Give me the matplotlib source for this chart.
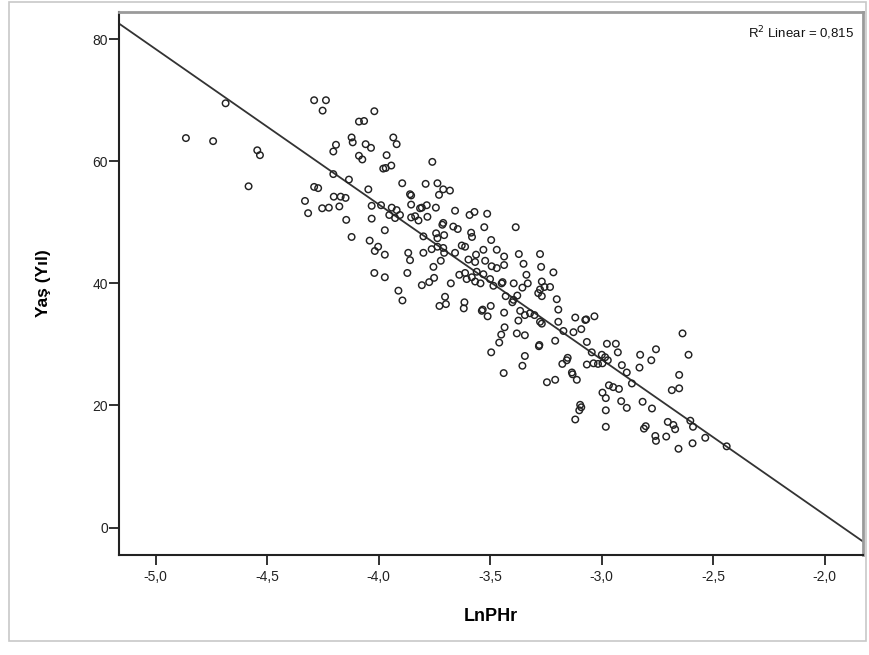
import numpy as np
import matplotlib.pyplot as plt
from matplotlib.ticker import FuncFormatter
from matplotlib.patches import Rectangle

plt.rcParams['font.family'] = ['Liberation Sans', 'DejaVu Sans']

# LnPHr (x) and age in years (y)
ln_phr = [
    -4.687, -4.290, -4.237, -4.252, -4.865, -4.743, -4.545, -4.533, -4.122, -4.117,
    -4.192, -4.204, -4.204, -4.134, -4.584, -4.290, -4.272, -4.331, -4.202, -4.171,
    -4.149, -4.254, -4.224, -4.177, -4.317, -4.146, -4.122,
    -4.020, -4.089, -4.066, -4.059, -4.035, -3.935, -3.920, -4.089, -4.074,
    -3.965, -3.980, -3.969, -3.944, -3.760, -4.047, -3.895, -3.790, -3.737, -3.711,
    -3.681, -3.730, -3.860, -3.855, -4.032, -3.990, -3.942, -3.920, -3.855, -3.815,
    -3.807, -3.785, -3.744, -3.953, -3.927, -3.905, -3.855, -3.837, -3.822, -3.782,
    -4.032, -3.658, -3.593, -3.571, -3.514, -3.715, -3.711, -3.666, -3.646, -3.527,
    -3.386, -3.973, -3.800, -3.743, -3.737, -3.707, -3.586, -3.582, -3.496, -4.041,
    -4.003, -4.018, -3.973, -3.868, -3.860, -3.800, -3.763, -3.737, -3.711, -3.707,
    -3.658, -3.628, -3.613, -3.564, -3.531, -3.471, -3.438, -3.372, -3.722, -3.755,
    -3.598, -3.568, -3.523, -3.438, -3.351, -4.020, -3.872, -3.494, -3.471,
    -3.973, -3.912, -3.894, -3.807, -3.774, -3.752, -3.677, -3.703, -3.699, -3.728,
    -3.616, -3.619, -3.639, -3.613, -3.606, -3.583, -3.568, -3.544, -3.561, -3.531,
    -3.501, -3.486, -3.449, -3.445, -3.395, -3.356, -3.338, -3.332, -3.431, -3.401,
    -3.379, -3.396, -3.498, -3.538, -3.534, -3.512, -3.438, -3.366, -3.374, -3.345,
    -3.436, -3.451, -3.460, -3.381, -3.345, -3.496, -3.345, -3.356, -3.440,
    -3.217, -3.269, -3.257, -3.277, -3.232, -3.285, -3.269, -3.202, -3.195, -3.322,
    -3.302, -3.277, -3.269, -3.195, -3.119, -3.074, -3.070, -3.033, -3.172, -3.127,
    -3.092, -3.209, -3.067, -2.977, -2.937, -2.928, -3.282, -3.280, -3.153, -3.157,
    -3.177, -3.045, -3.000, -2.985, -2.973, -3.067, -3.037, -3.017, -2.997, -2.910,
    -2.888, -2.828, -2.778, -2.757, -2.831, -2.638, -2.611, -2.653, -2.686, -2.653,
    -3.134, -3.131, -3.209, -3.246, -3.112, -2.865, -2.968, -2.949, -2.923, -2.997,
    -2.982, -2.913, -2.817, -3.097, -3.092, -3.101, -2.982, -2.888, -2.775, -3.119,
    -2.982, -2.811, -2.803, -2.704, -2.679, -2.671, -2.603, -2.591, -2.760, -2.757,
    -2.711, -2.593, -2.536, -2.656, -2.440, -3.277, -3.272,
]
age = [
    69.5, 70.0, 70.0, 68.3, 63.8, 63.3, 61.8, 61.0, 63.9, 63.1,
    62.7, 61.6, 57.9, 57.0, 55.9, 55.8, 55.6, 53.5, 54.2, 54.2,
    54.0, 52.3, 52.4, 52.6, 51.5, 50.4, 47.6,
    68.2, 66.5, 66.6, 62.8, 62.2, 63.9, 62.8, 60.9, 60.3,
    61.0, 58.8, 58.9, 59.3, 59.9, 55.4, 56.4, 56.3, 56.4, 55.4,
    55.2, 54.5, 54.6, 54.4, 52.7, 52.8, 52.4, 52.0, 52.9, 52.3,
    52.4, 52.8, 52.4, 51.2, 50.7, 51.2, 50.8, 51.0, 50.3, 50.9,
    50.6, 51.9, 51.2, 51.7, 51.4, 49.6, 49.9, 49.3, 48.9, 49.2,
    49.2, 48.7, 47.7, 48.2, 47.4, 47.9, 48.3, 47.6, 47.1, 47.0,
    46.0, 45.3, 44.7, 45.0, 43.8, 45.0, 45.6, 46.0, 45.8, 45.0,
    45.0, 46.2, 46.0, 44.7, 45.5, 45.5, 44.4, 44.8, 43.7, 42.7,
    43.9, 43.5, 43.7, 43.0, 43.2, 41.7, 41.7, 42.8, 42.5,
    41.0, 38.8, 37.2, 39.7, 40.2, 40.9, 40.0, 37.8, 36.6, 36.3,
    36.9, 35.9, 41.4, 41.7, 40.7, 41.0, 40.3, 40.0, 41.9, 41.5,
    40.7, 39.6, 40.0, 40.2, 40.0, 39.3, 41.4, 40.0, 37.9, 36.9,
    38.0, 37.3, 36.3, 35.5, 35.7, 34.6, 35.2, 35.5, 33.9, 34.8,
    32.8, 31.6, 30.3, 31.8, 31.5, 28.7, 28.1, 26.5, 25.3,
    41.8, 40.3, 39.4, 39.0, 39.4, 38.4, 37.9, 37.4, 35.7, 35.1,
    34.8, 33.7, 33.4, 33.7, 34.4, 34.0, 34.1, 34.6, 32.2, 32.0,
    32.5, 30.6, 30.4, 30.1, 30.1, 28.7, 29.7, 29.9, 27.8, 27.4,
    26.8, 28.7, 28.3, 27.9, 27.4, 26.7, 26.9, 26.8, 26.9, 26.6,
    25.4, 28.3, 27.4, 29.2, 26.2, 31.8, 28.3, 25.0, 22.5, 22.8,
    25.4, 25.1, 24.2, 23.8, 24.2, 23.6, 23.3, 23.0, 22.7, 22.1,
    21.2, 20.7, 20.6, 20.1, 19.7, 19.2, 19.2, 19.6, 19.5, 17.7,
    16.5, 16.2, 16.6, 17.3, 16.8, 16.1, 17.5, 16.5, 15.0, 14.2,
    14.9, 13.8, 14.7, 12.9, 13.3, 44.8, 42.7,
]
r2_text = 'R$^2$ Linear = 0,815'

x = np.array(ln_phr)
y = np.array(age)
slope, intercept = np.polyfit(x, y, 1)

fig = plt.figure(figsize=(8.7, 6.55), dpi=100)
ax = fig.add_axes([0.1368, 0.1527, 0.8548, 0.8294])

# outer grey frame round the whole chart
fig.patches.append(Rectangle((0.010, 0.022), 0.985, 0.975, transform=fig.transFigure,
                             fill=False, edgecolor='#c8c8c8', linewidth=1.2))

xlim = (-5.165, -1.83)
ax.set_xlim(xlim)
ax.set_ylim(-4.5, 84.5)

xx = np.array(xlim)
ax.plot(xx, intercept + slope * xx, color='#333333', linewidth=1.3, zorder=2)
ax.scatter(x, y, s=22, facecolors='none', edgecolors='#222222', linewidths=1.05, zorder=3)

ax.set_xticks([-5.0, -4.5, -4.0, -3.5, -3.0, -2.5, -2.0])
ax.set_yticks([0, 20, 40, 60, 80])
ax.xaxis.set_major_formatter(FuncFormatter(lambda v, p: f'{v:.1f}'.replace('.', ',')))
ax.yaxis.set_major_formatter(FuncFormatter(lambda v, p: f'{v:.0f}'))
ax.tick_params(direction='out', length=7, width=1.3, color='#222222',
               labelsize=10, labelcolor='#222222')
ax.tick_params(axis='y', pad=1)
ax.tick_params(axis='x', pad=4)

for side in ['left', 'bottom']:
    ax.spines[side].set_color('#222222')
    ax.spines[side].set_linewidth(1.5)
for side in ['top', 'right']:
    ax.spines[side].set_color('#9a9a9a')
    ax.spines[side].set_linewidth(2)

ax.set_xlabel('LnPHr', fontsize=13, fontweight='bold', labelpad=17)
ax.set_ylabel('Yaş (Yıl)', fontsize=12.5, fontweight='bold', labelpad=30)

ax.text(0.988, 0.96, r2_text, transform=ax.transAxes, ha='right', va='center',
        fontsize=9.5, color='#111111')

fig.savefig('out.png', dpi=100)
